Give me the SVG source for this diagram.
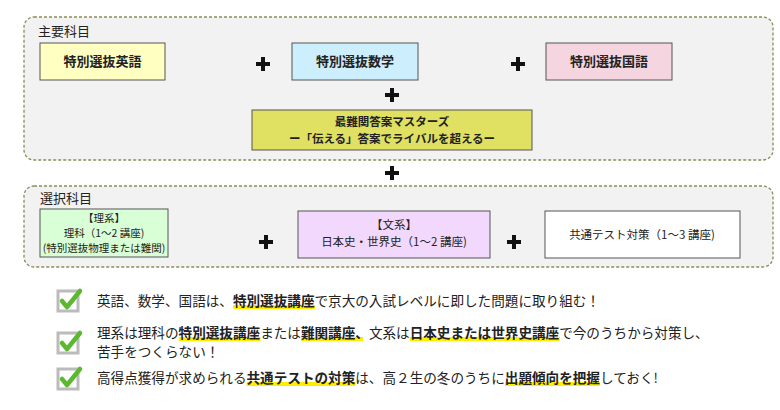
<svg xmlns="http://www.w3.org/2000/svg" width="780" height="410" viewBox="0 0 780 410">
<style>
text{font-family:"Noto Sans CJK JP","Noto Sans CJK SC",sans-serif;fill:#222}
.grp{fill:#f2f2f2;stroke:#8c8c5a;stroke-width:1.3;stroke-dasharray:3 2}
.box{stroke:#555;stroke-width:1}
.t{font-size:13px;text-anchor:middle;font-weight:bold}
.ts{font-size:11.5px;text-anchor:middle}
.tx{font-size:10.5px;text-anchor:middle}
.lbl{font-size:13px}
.plus{stroke:#111;stroke-width:4}
.c{font-size:13.6px}
.b{font-weight:bold}
.hl{fill:#ffee00}
.cb{fill:#fff;stroke:#bbb;stroke-width:3}
.ck{fill:none;stroke:#5cb82e;stroke-width:4.5;stroke-linecap:round;stroke-linejoin:round}
</style>
<defs>
<g id="plus"><line class="plus" x1="-7" y1="0" x2="7" y2="0"/><line class="plus" x1="0" y1="-7" x2="0" y2="7"/></g>
<g id="check"><rect class="cb" x="0" y="0" width="20" height="20"/><polyline class="ck" points="4,10 9,16 22,0"/></g>
</defs>
<g id="main">
<rect class="grp" x="24" y="17" width="749" height="143" rx="10"/>
<text class="lbl" x="38" y="36">主要科目</text>
</g>
<g id="eng"><rect class="box" x="40" y="43" width="125" height="37" fill="#ffffc2"/><text class="t" x="102.5" y="66">特別選抜英語</text></g>
<g id="math"><rect class="box" x="292" y="43" width="126" height="37" fill="#cdeefc"/><text class="t" x="355" y="66">特別選抜数学</text></g>
<g id="jpn"><rect class="box" x="546" y="43" width="126" height="37" fill="#f5d5e0"/><text class="t" x="609" y="66">特別選抜国語</text></g>
<g id="master"><rect class="box" x="252" y="110" width="280" height="40" fill="#e0e062"/><text class="ts b" x="392" y="126">最難関答案マスターズ</text><text class="ts b" x="392" y="143">ー「伝える」答案でライバルを超えるー</text></g>
<g id="sel">
<rect class="grp" x="24" y="186" width="749" height="81" rx="10"/>
<text class="lbl" x="40" y="203">選択科目</text>
</g>
<g id="rikei"><rect class="box" x="40" y="209" width="128" height="48" fill="#d9ffd6"/><text class="tx" x="104" y="222">【理系】</text><text class="tx" x="104" y="237">理科（1～2 講座)</text><text class="tx" x="104" y="252">(特別選抜物理または難関)</text></g>
<g id="bunkei"><rect class="box" x="298" y="211" width="192" height="47" fill="#f3d8fd"/><text class="ts" x="394" y="229">【文系】</text><text class="ts" x="394" y="246">日本史・世界史（1～2 講座)</text></g>
<g id="kyotsu"><rect class="box" x="545" y="211" width="195" height="47" fill="#fff"/><text class="ts" x="642" y="239">共通テスト対策（1～3 講座)</text></g>
<g id="connectors">
<use href="#plus" x="263" y="64"/><use href="#plus" x="518" y="64"/>
<use href="#plus" x="392" y="95"/><use href="#plus" x="392" y="173"/>
<use href="#plus" x="266" y="242"/><use href="#plus" x="514" y="242"/>
</g>
<g id="checklist">
<use href="#check" x="58" y="291"/>
<use href="#check" x="58" y="333"/>
<use href="#check" x="58" y="369"/>
<rect class="hl" x="233" y="305" width="82" height="4"/>
<rect class="hl" x="178.6" y="337" width="82" height="4"/>
<rect class="hl" x="301" y="337" width="62" height="4"/>
<rect class="hl" x="409.8" y="337" width="150" height="4"/>
<rect class="hl" x="246.6" y="382" width="109" height="4"/>
<rect class="hl" x="505" y="382" width="95" height="4"/>
<text class="c" x="97" y="306">英語、数学、国語は、<tspan class="b">特別選抜講座</tspan>で京大の入試レベルに即した問題に取り組む！</text>
<text class="c" x="97" y="338">理系は理科の<tspan class="b">特別選抜講座</tspan>または<tspan class="b">難関講座、</tspan>文系は<tspan class="b">日本史または世界史講座</tspan>で今のうちから対策し、</text>
<text class="c" x="97" y="357">苦手をつくらない！</text>
<text class="c" x="97" y="383">高得点獲得が求められる<tspan class="b">共通テストの対策</tspan>は、高２生の冬のうちに<tspan class="b">出題傾向を把握</tspan>しておく!</text>
</g>
</svg>
